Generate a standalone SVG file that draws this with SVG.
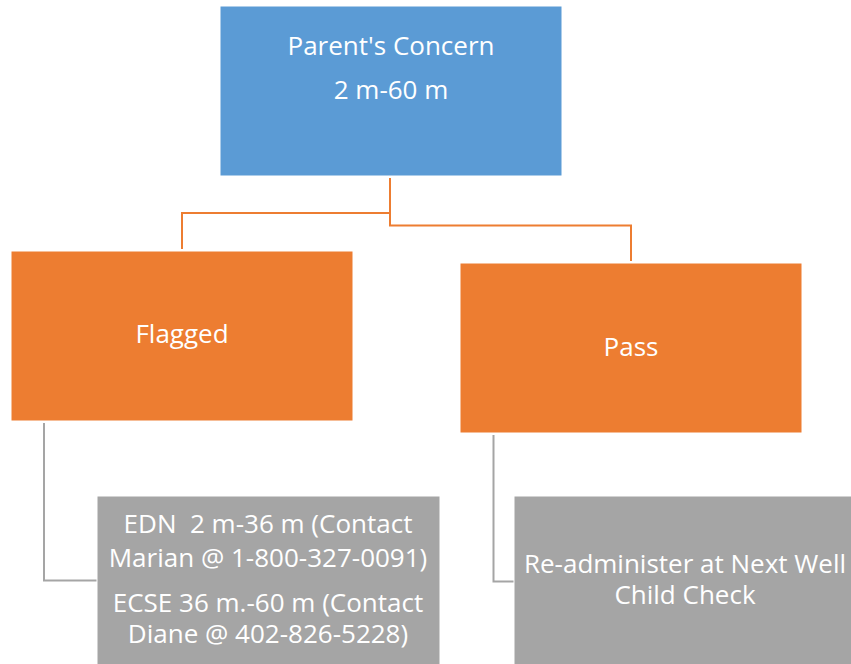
<svg xmlns="http://www.w3.org/2000/svg" width="851" height="664" viewBox="0 0 851 664">
<style>
.t{font-family:"Open Sans","Liberation Sans",sans-serif;font-size:26px;fill:#ffffff;text-anchor:middle;white-space:pre}
.blue{fill:#5b9bd5;stroke:#ffffff;stroke-width:1}
.orange{fill:#ed7d31;stroke:#ffffff;stroke-width:1}
.gray{fill:#a5a5a5;stroke:#ffffff;stroke-width:1}
.co{fill:none;stroke:#ed7d31;stroke-width:2}
.cg{fill:none;stroke:#a5a5a5;stroke-width:2}
</style>
<rect width="851" height="664" fill="#ffffff"/>
<g id="connectors">
<path class="co" d="M390 178 V213 H182 V249"/>
<path class="co" d="M390 213 V225.5 H631 V261"/>
<path class="cg" d="M44 423 V580.5 H97"/>
<path class="cg" d="M493.5 435 V581.5 H514"/>
</g>
<g id="parent">
<rect class="blue" x="220" y="6" width="342" height="170"/>
<text class="t" x="391" y="55">Parent's Concern</text>
<text class="t" x="391" y="99">2 m-60 m</text>
</g>
<g id="flagged">
<rect class="orange" x="11" y="251" width="342" height="170"/>
<text class="t" x="182" y="343">Flagged</text>
</g>
<g id="pass">
<rect class="orange" x="460" y="263" width="342" height="170"/>
<text class="t" x="631" y="356">Pass</text>
</g>
<g id="edn">
<rect class="gray" x="97" y="496" width="343" height="180"/>
<text class="t" x="268" y="533" xml:space="preserve">EDN  2 m-36 m (Contact</text>
<text class="t" x="268" y="567">Marian @ 1-800-327-0091)</text>
<text class="t" x="268" y="612">ECSE 36 m.-60 m (Contact</text>
<text class="t" x="268" y="643">Diane @ 402-826-5228)</text>
</g>
<g id="readminister">
<rect class="gray" x="514" y="496" width="343" height="180"/>
<text class="t" x="685" y="573">Re-administer at Next Well</text>
<text class="t" x="685" y="604">Child Check</text>
</g>
</svg>
